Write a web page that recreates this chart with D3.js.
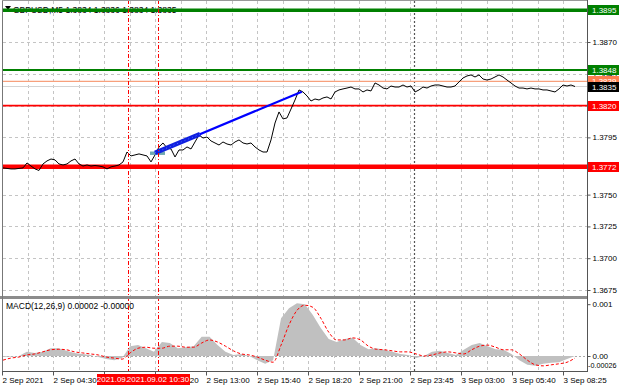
<!DOCTYPE html>
<html><head><meta charset="utf-8">
<script src="https://cdn.jsdelivr.net/npm/d3@7"></script>
<style>
body{margin:0;background:#fff}
svg{display:block}
text{font-family:"Liberation Sans",Arial,sans-serif}
</style>
</head><body>
<svg id="c" width="620" height="388"></svg>
<script>
// ---------------- DATA ----------------
const prices = [
1.37710,1.37706,1.37702,1.37702,1.37706,1.37710,1.37749,1.37725,1.37702,1.37690,
1.37741,1.37765,1.37780,1.37773,1.37741,1.37733,1.37741,1.37765,1.37780,1.37741,
1.37725,1.37733,1.37725,1.37729,1.37725,1.37718,1.37702,1.37718,1.37725,1.37733,
1.37757,1.37835,1.37804,1.37812,1.37820,1.37812,1.37804,1.37757,1.37812,1.37875,
1.37906,1.37867,1.37859,1.37796,1.37851,1.37851,1.37875,1.37859,1.37914,1.37969,
1.37945,1.37953,1.37922,1.37906,1.37890,1.37914,1.37898,1.37890,1.37914,1.37930,
1.37906,1.37898,1.37906,1.37875,1.37851,1.37835,1.37835,1.37930,1.38063,1.38150,
1.38095,1.38103,1.38173,1.38244,1.38323,1.38307,1.38276,1.38236,1.38252,1.38244,
1.38260,1.38268,1.38252,1.38307,1.38323,1.38331,1.38338,1.38346,1.38331,1.38331,
1.38307,1.38323,1.38315,1.38378,1.38362,1.38338,1.38331,1.38354,1.38346,1.38346,
1.38362,1.38346,1.38354,1.38307,1.38323,1.38346,1.38338,1.38354,1.38362,1.38362,
1.38354,1.38346,1.38346,1.38354,1.38386,1.38417,1.38433,1.38441,1.38425,1.38441,
1.38409,1.38401,1.38409,1.38425,1.38441,1.38425,1.38401,1.38378,1.38354,1.38338,
1.38338,1.38331,1.38338,1.38331,1.38331,1.38323,1.38323,1.38315,1.38307,1.38331,
1.38362,1.38354,1.38362,1.38350
];
const macdHist = [
-0.00002,-0.00001,0.00000,0.00008,0.00006,0.00008,0.00015,0.00015,0.00010,0.00006,
0.00004,0.00002,-0.00002,-0.00006,-0.00008,-0.00004,0.00019,0.00021,0.00015,0.00008,
0.00027,0.00025,0.00015,0.00017,0.00019,0.00037,0.00037,0.00021,0.00008,0.00002,
0.00004,0.00000,-0.00008,-0.00015,-0.00008,0.00073,0.00092,0.00102,0.00100,0.00079,
0.00054,0.00033,0.00027,0.00033,0.00035,0.00021,0.00013,0.00015,0.00012,0.00008,
0.00004,0.00002,-0.00004,0.00000,0.00008,0.00010,0.00006,0.00002,0.00012,0.00021,
0.00025,0.00019,0.00013,0.00012,0.00004,-0.00008,-0.00017,-0.00019,-0.00015,-0.00013,
-0.00012,-0.00006,0.00000
];
const macdSignal = [
-0.00008,-0.00004,-0.00002,0.00002,0.00004,0.00008,0.00012,0.00013,0.00012,0.00008,
0.00006,0.00004,0.00002,-0.00002,-0.00004,-0.00006,0.00006,0.00015,0.00017,0.00015,
0.00015,0.00019,0.00019,0.00017,0.00017,0.00025,0.00031,0.00027,0.00019,0.00010,
0.00004,0.00002,-0.00002,-0.00008,-0.00012,0.00021,0.00060,0.00088,0.00098,0.00094,
0.00073,0.00046,0.00031,0.00031,0.00035,0.00031,0.00019,0.00013,0.00012,0.00010,
0.00008,0.00008,0.00004,0.00000,0.00002,0.00006,0.00008,0.00006,0.00004,0.00012,
0.00019,0.00021,0.00017,0.00012,0.00012,0.00004,-0.00008,-0.00017,-0.00019,-0.00017,
-0.00015,-0.00012,-0.00004
];
const priceTicks = [1.3675,1.3700,1.3725,1.3750,1.3772,1.3795,1.3820,1.3845,1.3870];
const macdTicks = [0.001, 0.0];
const macdTickLabels = ["0.001","0.00"];
const macdMinLabel = "-0.00026";
const timeTickIdx = [-0.25,12.5,25.25,38,50.75,63.5,76.25,89,101.75,114.5,127.25,140];
const timeTickLabels = ["2 Sep 2021","2 Sep 04:30","","2 Sep 10:20","2 Sep 13:00","2 Sep 15:40",
  "2 Sep 18:20","2 Sep 21:00","2 Sep 23:45","3 Sep 03:00","3 Sep 05:40","3 Sep 08:25"];
const levelPrices = [1.3895, 1.3848, 1.3839, 1.3835, 1.3820, 1.3772];
const levelLabels = ["1.3895","1.3848","1.3839","1.3835","1.3820","1.3772"];
const vlineIdx = [31.25, 38.75];
const vlineLabels = ["2021.09.02 09:00","2021.09.02 10:30"];
const separatorIdx = 102.75;
const trendIdx = [38, 74.7];
const trendPrice = [1.37828, 1.38309];
const trendThickEndIdx = 49.25;
const entryBoxIdx = [36.75, 40.5];
const entryBoxPrice = [1.37839, 1.37812];
const title = "GBPUSD,M5  1.3834 1.3836 1.3834 1.3835";
const macdTitle = "MACD(12,26,9) 0.00002 -0.00000";

// ---------------- LAYOUT ----------------
const svg = d3.select("#c");
const FS = 8;
const L = 3, R = 587, mainTop = 1, mainBot = 296, macdTop = 299, macdBot = 371;
const x = d3.scaleLinear().domain([0, prices.length - 1]).range([3, 575]);
const xm = d3.scaleLinear().domain([0, macdHist.length - 1]).range([3, 575]);
const y = d3.scaleLinear().domain([1.3675, 1.3870]).range([290, 42]);
const ym = d3.scaleLinear().domain([-0.00027, 0.0011]).range([370, 299]);

const defs = svg.append("defs");
defs.append("clipPath").attr("id","mainclip")
  .append("rect").attr("x",L).attr("y",mainTop).attr("width",R-L).attr("height",mainBot-mainTop);
defs.append("clipPath").attr("id","macdclip")
  .append("rect").attr("x",L).attr("y",macdTop).attr("width",R-L).attr("height",macdBot-macdTop);

const gridColor = "#c4c4c4";
const step = (timeTickIdx[1]-timeTickIdx[0]) / 2;
const gridIdx = d3.range(1, 23).map(k => timeTickIdx[0] + k*step);
svg.append("g").selectAll("line").data(gridIdx).join("line")
  .attr("x1", d => Math.round(x(d))+0.5).attr("x2", d => Math.round(x(d))+0.5)
  .attr("y1", mainTop).attr("y2", macdBot)
  .attr("stroke", gridColor).attr("stroke-dasharray","3,3");
svg.append("g").selectAll("line").data(priceTicks).join("line")
  .attr("x1", L).attr("x2", R).attr("y1", d => Math.round(y(d))+0.5).attr("y2", d => Math.round(y(d))+0.5)
  .attr("stroke", gridColor).attr("stroke-dasharray","3,3");
svg.append("line").attr("x1",L).attr("x2",R).attr("y1",Math.round(ym(0))+0.5).attr("y2",Math.round(ym(0))+0.5)
  .attr("stroke","#a8a8a8").attr("stroke-dasharray","2,2");

// title (partly hidden by the top level line, as in the terminal)
svg.append("path").attr("d","M5,6 L11,6 L8,10 Z").attr("fill","#000");
svg.append("text").attr("x",13).attr("y",12.5).attr("font-size",8.5).attr("fill","#000").text(title);

svg.append("line").attr("x1",Math.round(x(separatorIdx))+0.5).attr("x2",Math.round(x(separatorIdx))+0.5)
  .attr("y1",mainTop).attr("y2",macdBot).attr("stroke","#555").attr("stroke-dasharray","2,2").attr("stroke-width",1.2);

const levelStyle = [
  {c:"#008000", w:3.5, box:"#008000", tc:"#fff"},
  {c:"#008000", w:2,   box:"#008000", tc:"#fff"},
  {c:"#f7a07c", w:1.2, box:"#ff7f50", tc:"#fff"},
  {c:"#d4d4d4", w:1.2, box:"#000000", tc:"#fff"},
  {c:"#ff0000", w:1.6, box:"#ff0000", tc:"#fff"},
  {c:"#ff0000", w:4.5, box:"#ff0000", tc:"#fff"}
];
const mainG = svg.append("g").attr("clip-path","url(#mainclip)");
mainG.selectAll("line.lvl").data(levelPrices).join("line").attr("class","lvl")
  .attr("x1", L).attr("x2", R).attr("y1", d => y(d)).attr("y2", d => y(d))
  .attr("stroke", (d,i) => levelStyle[i].c).attr("stroke-width", (d,i) => levelStyle[i].w);

mainG.append("path").datum(prices)
  .attr("d", d3.line().x((d,i)=>x(i)).y(d=>y(d)))
  .attr("fill","none").attr("stroke","#000").attr("stroke-width",1);

mainG.append("rect").attr("x", x(entryBoxIdx[0])).attr("y", y(entryBoxPrice[0]))
  .attr("width", x(entryBoxIdx[1]) - x(entryBoxIdx[0]))
  .attr("height", y(entryBoxPrice[1]) - y(entryBoxPrice[0]))
  .attr("fill","#5f9ea8").attr("opacity",0.9);

const tScale = d3.scaleLinear().domain(trendIdx).range(trendPrice);
mainG.append("line").attr("x1", x(trendIdx[0])).attr("y1", y(trendPrice[0]))
  .attr("x2", x(trendIdx[1])).attr("y2", y(trendPrice[1]))
  .attr("stroke","#0000ff").attr("stroke-width",2.2);
mainG.append("line").attr("x1", x(trendIdx[0])).attr("y1", y(trendPrice[0]))
  .attr("x2", x(trendThickEndIdx)).attr("y2", y(tScale(trendThickEndIdx)))
  .attr("stroke","#1020e0").attr("stroke-width",4.5);
mainG.append("line").attr("x1", x(trendIdx[0])).attr("y1", y(trendPrice[0]))
  .attr("x2", x(trendThickEndIdx)).attr("y2", y(tScale(trendThickEndIdx)))
  .attr("stroke","#5070ff").attr("stroke-width",1).attr("stroke-dasharray","1,3");

const macdG = svg.append("g").attr("clip-path","url(#macdclip)");
macdG.append("path").datum(macdHist)
  .attr("d", d3.area().x((d,i)=>xm(i)).y0(ym(0)).y1(d=>ym(d)))
  .attr("fill","#c0c0c0");
macdG.append("path").datum(macdSignal)
  .attr("d", d3.line().curve(d3.curveMonotoneX).x((d,i)=>xm(i)).y(d=>ym(d)))
  .attr("fill","none").attr("stroke","#ff0000").attr("stroke-width",1).attr("stroke-dasharray","3,2");
svg.append("text").attr("x",6).attr("y",309).attr("font-size",8.5).attr("fill","#000").text(macdTitle);

svg.append("g").selectAll("line").data(vlineIdx).join("line")
  .attr("x1", d => Math.round(x(d))+0.5).attr("x2", d => Math.round(x(d))+0.5)
  .attr("y1", 0).attr("y2", macdBot)
  .attr("stroke","#ff0000").attr("stroke-dasharray","4,2,1,2");

// frame
svg.append("rect").attr("x",0).attr("y",mainBot).attr("width",R+1).attr("height",3).attr("fill","#8c8c8c");
svg.append("line").attr("x1",2.5).attr("x2",2.5).attr("y1",0).attr("y2",macdBot).attr("stroke","#777");
svg.append("line").attr("x1",2).attr("x2",R).attr("y1",0.5).attr("y2",0.5).attr("stroke","#999");
svg.append("line").attr("x1",2).attr("x2",R+1).attr("y1",macdBot+0.5).attr("y2",macdBot+0.5).attr("stroke","#555");
svg.append("line").attr("x1",R+0.5).attr("x2",R+0.5).attr("y1",0).attr("y2",macdBot+1).attr("stroke","#555");

// right price axis
const yAxis = d3.axisRight(y).tickValues(priceTicks).tickFormat(d3.format(".4f")).tickSize(3).tickPadding(2);
const ya = svg.append("g").attr("transform",`translate(${R+0.5},0)`).call(yAxis);
ya.select(".domain").remove();
ya.selectAll("line").attr("stroke","#555");
ya.selectAll("text").attr("font-size",FS).attr("fill","#000").attr("font-family","Liberation Sans, Arial, sans-serif");

const mAxis = d3.axisRight(ym).tickValues(macdTicks).tickFormat((d,i)=>macdTickLabels[i]).tickSize(3).tickPadding(2);
const ma = svg.append("g").attr("transform",`translate(${R+0.5},0)`).call(mAxis);
ma.select(".domain").remove();
ma.selectAll("line").attr("stroke","#555");
ma.selectAll("text").attr("font-size",FS).attr("fill","#000").attr("font-family","Liberation Sans, Arial, sans-serif");
svg.append("text").attr("x",R+1).attr("y",ym(0)+12).attr("font-size",7.2).attr("fill","#000").text(macdMinLabel);

// level label boxes
const lb = svg.append("g").selectAll("g").data(levelPrices).join("g")
  .attr("transform", d => `translate(${R+1},${Math.round(y(d))})`);
lb.append("rect").attr("x",0).attr("y",-5).attr("width",31).attr("height",10)
  .attr("fill",(d,i)=>levelStyle[i].box);
lb.append("text").attr("x",4).attr("y",3).attr("font-size",FS).attr("fill",(d,i)=>levelStyle[i].tc)
  .text((d,i)=>levelLabels[i]);

// time axis
const xAxis = d3.axisBottom(x).tickValues(timeTickIdx).tickFormat((d,i)=>timeTickLabels[i]).tickSize(4).tickPadding(2);
const xa = svg.append("g").attr("transform",`translate(0,${macdBot+0.5})`).call(xAxis);
xa.select(".domain").remove();
xa.selectAll("line").attr("stroke","#555");
xa.selectAll("text").attr("text-anchor","start").attr("font-size",FS).attr("fill","#000")
  .attr("font-family","Liberation Sans, Arial, sans-serif");

// vertical line labels on the time axis
const vl = svg.append("g").selectAll("g").data(vlineIdx).join("g")
  .attr("transform", d => `translate(${Math.round(x(d))},${macdBot+3})`);
vl.append("rect").attr("x",-31).attr("y",0).attr("width",63).attr("height",11).attr("fill","#ff0000");
vl.append("text").attr("x",0).attr("y",8.3).attr("text-anchor","middle").attr("font-size",FS).attr("fill","#fff")
  .text((d,i)=>vlineLabels[i]);
</script>
</body></html>
